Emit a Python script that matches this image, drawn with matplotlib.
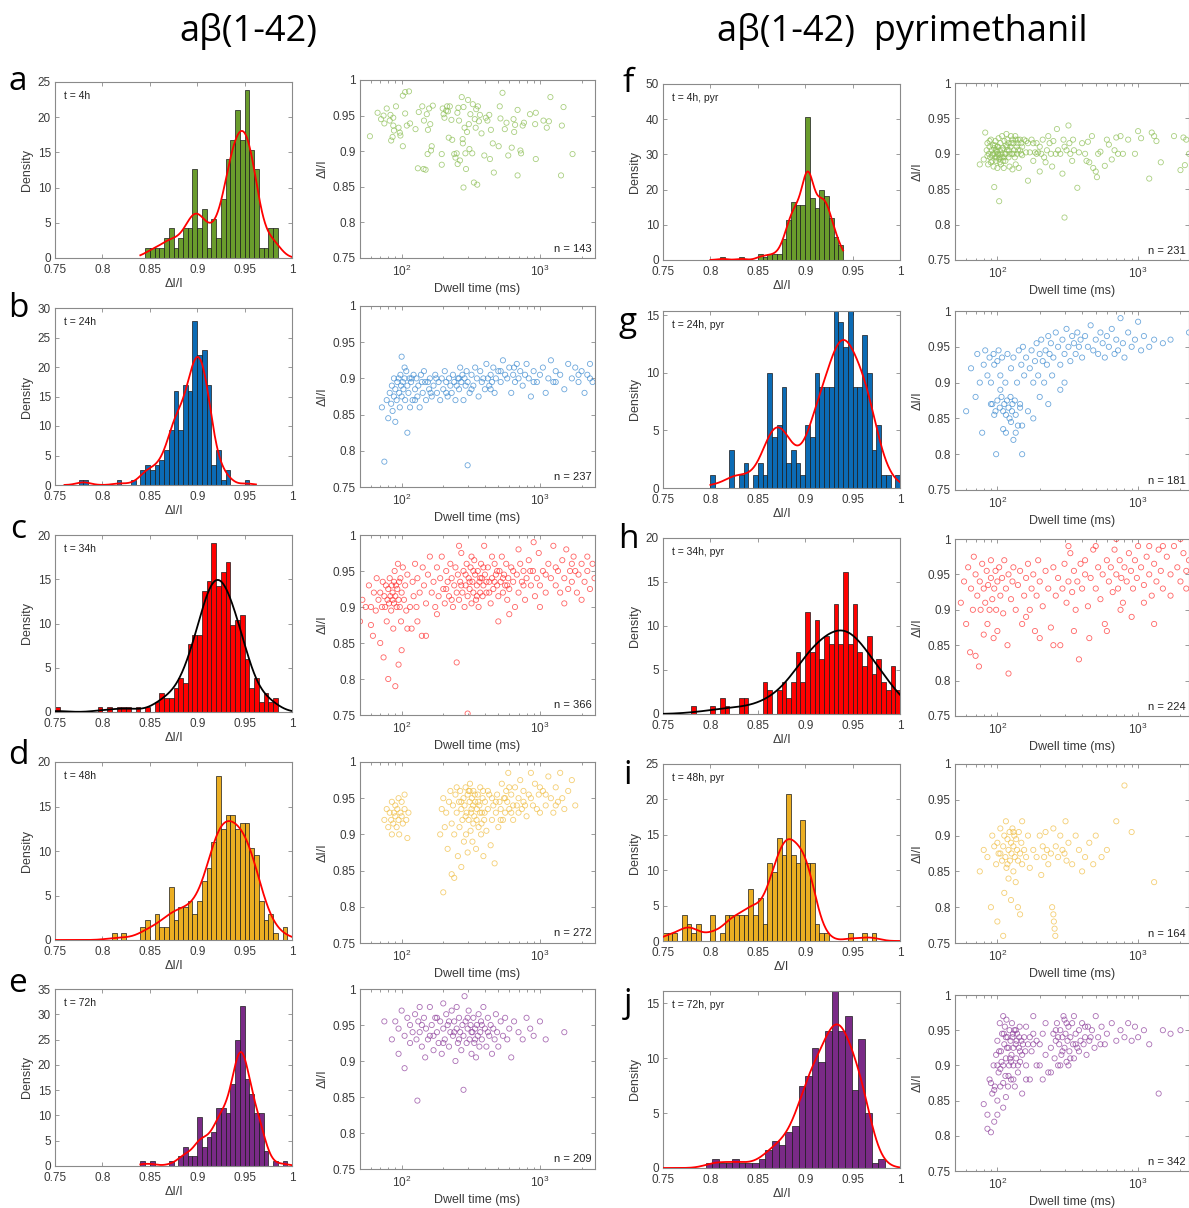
import numpy as np
import matplotlib
matplotlib.use('Agg')
import matplotlib.pyplot as plt
from matplotlib.ticker import LogLocator, NullFormatter, FixedLocator

plt.rcParams['font.family'] = ['Liberation Sans', 'DejaVu Sans']
plt.rcParams['mathtext.fontset'] = 'custom'
plt.rcParams['mathtext.rm'] = 'Liberation Sans'

# ---------------- histogram data (density per bin) ----------------
hist_a_start, hist_a_width = 0.845, 0.005
hist_a_heights = [1.4, 1.4, 1.4, 1.4, 2.8, 4.2, 1.4, 2.8, 4.2, 4.2, 12.6, 4.2, 7.0, 1.4, 5.6, 2.8,
                  8.4, 14.0, 16.8, 21.0, 16.8, 23.8, 15.4, 12.6, 1.4, 1.4, 4.2, 4.2]

hist_b_start, hist_b_width = 0.775, 0.005
hist_b_heights = [0.84, 0.84, 0, 0, 0, 0, 0, 0, 0.84, 0, 0, 0.84, 0,
                  2.5, 3.4, 2.5, 3.4, 4.2, 5.9, 9.3, 16.0, 9.3, 16.9, 16.0, 27.8, 22.0, 22.8,
                  16.9, 3.4, 5.9, 0.84, 2.5, 0, 0, 0, 0.84]

hist_c_start, hist_c_width = 0.75, 0.005
hist_c_heights = [0.55, 0, 0, 0, 0, 0, 0, 0, 0, 0.55, 0, 0.55, 0, 0.55, 0.55, 0.55, 0, 0.55, 0, 0.55,
                  0, 1.1, 2.2, 1.6, 1.6, 2.7, 3.8, 3.3, 7.7, 8.7, 8.7, 13.7, 14.8, 19.1, 14.2, 15.8,
                  16.9, 9.8, 10.4, 11.0, 6.0, 2.7, 3.8, 1.1, 2.2, 1.1, 1.6]

hist_d_start, hist_d_width = 0.81, 0.005
hist_d_heights = [0.74, 0, 0.74, 0, 0, 0, 1.5, 2.2, 0, 2.9, 1.5, 1.5, 5.9, 2.2, 3.7, 3.7, 4.4, 2.9,
                  4.4, 6.6, 8.1, 11.0, 18.4, 12.5, 14.0, 14.0, 12.5, 13.2, 13.2, 10.3, 9.6, 4.4,
                  2.2, 2.9, 0.74, 0, 1.5]

hist_e_start, hist_e_width = 0.84, 0.005
hist_e_heights = [0.96, 0, 0.96, 0, 0, 0, 0.96, 0, 1.9, 3.8, 1.9, 1.9, 9.6, 3.8, 5.7, 6.7, 11.5,
                  11.5, 10.5, 16.3, 24.9, 31.6, 17.2, 14.3, 10.5, 10.5, 2.9, 0, 0.96, 0, 0.96]

hist_f_start, hist_f_width = 0.81, 0.005
hist_f_heights = [0.87, 0, 0, 0, 0.87, 0, 0, 0, 1.7, 0.87, 1.7, 1.7, 1.7, 6.1, 11.3, 16.5, 15.6,
                  15.6, 40.7, 17.5, 14.7, 19.9, 18.2, 12.0, 6.5, 4.3]

hist_g_start, hist_g_width = 0.80, 0.005
hist_g_heights = [1.1, 0, 0, 0, 3.3, 0, 1.1, 2.2, 0, 1.1, 2.2, 1.1, 10.0, 4.4, 5.5, 8.8, 2.2, 3.3,
                  2.2, 1.1, 5.5, 4.4, 10.0, 8.8, 8.8, 8.8, 16.6, 14.4, 12.2, 16.6, 8.8, 8.8, 13.3,
                  10.0, 3.3, 5.5, 1.1, 1.1, 0, 1.1]

hist_h_start, hist_h_width = 0.78, 0.005
hist_h_heights = [0.9, 0, 0, 0, 0.9, 0, 1.8, 0.9, 0, 0, 1.8, 1.8, 0, 0, 0, 3.6, 2.7, 0, 2.7, 3.6,
                  1.8, 3.6, 7.1, 3.6, 11.6, 7.1, 10.7, 6.3, 8.9, 8.0, 12.5, 8.0, 16.1, 8.0, 12.5,
                  7.1, 5.4, 8.9, 4.5, 6.3, 3.6, 2.7, 5.4, 2.7]

hist_i_start, hist_i_width = 0.75, 0.005
hist_i_heights = [1.2, 1.2, 1.2, 0, 3.7, 2.4, 1.2, 2.4, 0, 0, 3.7, 0, 1.2, 3.7, 3.7, 3.7, 3.7, 3.7,
                  7.3, 3.7, 6.1, 2.4, 11.0, 9.8, 14.6, 12.2, 20.7, 12.2, 11.0, 17.1, 11.0, 11.0,
                  2.4, 1.2, 1.2, 0, 0, 0, 0, 1.2, 0, 0, 1.2, 0, 1.2]

hist_j_start, hist_j_width = 0.795, 0.007
hist_j_heights = [0.42, 0.84, 0.42, 0.42, 0.84, 0.42, 0.42, 0.42, 0.84, 1.67, 2.5, 2.1, 3.3, 3.8,
                  7.5, 8.4, 10.9, 9.6, 12.5, 16.3, 12.5, 13.8, 7.1, 11.7, 5.0, 0.42, 0.84]

# ---------------- scatter data: (dwell time ms, dI/I) ----------------
scat_a = [(59,0.921),(67,0.954),(71,0.945),(74,0.950),(75,0.939),(78,0.960),(82,0.943),(83,0.951),
 (84,0.915),(86,0.920),(87,0.947),(87,0.936),(88,0.929),(91,0.963),(95,0.933),(97,0.926),(98,0.922),
 (102,0.907),(102,0.978),(106,0.953),(106,0.983),(109,0.936),(113,0.984),(115,0.939),(126,0.931),
 (131,0.876),(133,0.955),(141,0.963),(144,0.875),(145,0.943),(149,0.874),(152,0.952),(154,0.896),
 (155,0.930),(158,0.960),(161,0.938),(163,0.901),(165,0.907),(168,0.964),(195,0.896),(195,0.881),
 (198,0.960),(201,0.952),(204,0.947),(210,0.957),(213,0.963),(216,0.956),(219,0.919),(223,0.963),
 (229,0.944),(232,0.916),(240,0.896),(245,0.891),(250,0.897),(253,0.954),(254,0.882),(257,0.961),
 (260,0.943),(264,0.887),(272,0.976),(276,0.917),(277,0.911),(280,0.849),(280,0.962),(285,0.933),
 (289,0.897),(292,0.875),(297,0.927),(302,0.972),(306,0.938),(309,0.903),(314,0.952),(324,0.897),
 (327,0.966),(333,0.856),(338,0.945),(343,0.933),(346,0.959),(352,0.853),(356,0.963),(362,0.942),
 (368,0.951),(378,0.925),(396,0.894),(406,0.947),(417,0.943),(430,0.951),(435,0.889),(442,0.930),
 (456,0.911),(464,0.870),(503,0.907),(512,0.963),(518,0.946),(536,0.982),(557,0.931),(573,0.940),
 (590,0.894),(625,0.905),(644,0.945),(651,0.927),(661,0.937),(689,0.866),(689,0.958),(722,0.901),
 (730,0.897),(750,0.936),(766,0.940),(847,0.952),(923,0.938),(933,0.954),(933,0.889),(1060,0.943),
 (1120,0.933),(1160,0.942),(1190,0.976),(1420,0.866),(1440,0.936),(1480,0.962),(1720,0.896)]

scat_b = [(72,0.86),(75,0.785),(78,0.87),(80,0.845),(82,0.88),(84,0.865),(85,0.89),(86,0.855),
 (88,0.875),(88,0.9),(90,0.84),(90,0.885),(92,0.87),(93,0.895),(95,0.9),(96,0.88),(97,0.86),(98,0.905),
 (99,0.89),(100,0.93),(100,0.875),(102,0.895),(103,0.885),(105,0.9),(106,0.87),(108,0.91),(110,0.825),
 (110,0.89),(112,0.88),(114,0.9),(115,0.86),(117,0.895),(120,0.87),(122,0.905),(125,0.885),(128,0.9),
 (130,0.875),(132,0.89),(135,0.86),(140,0.895),(142,0.88),(145,0.91),(150,0.87),(155,0.895),
 (158,0.885),(160,0.9),(165,0.875),(170,0.89),(175,0.905),(180,0.88),(185,0.895),(190,0.87),(195,0.9),
 (200,0.885),(205,0.91),(210,0.895),(215,0.875),(220,0.9),(225,0.89),(230,0.88),(235,0.905),(240,0.895),
 (245,0.87),(250,0.89),(255,0.9),(260,0.885),(265,0.915),(270,0.895),(275,0.905),(280,0.87),(285,0.9),
 (290,0.89),(295,0.91),(300,0.78),(300,0.895),(310,0.88),(320,0.905),(330,0.89),(340,0.915),(350,0.9),
 (360,0.875),(370,0.91),(380,0.895),(390,0.9),(400,0.885),(410,0.92),(420,0.9),(430,0.89),(440,0.905),
 (450,0.895),(460,0.915),(470,0.88),(480,0.9),(500,0.91),(520,0.895),(540,0.925),(560,0.905),(580,0.9),
 (600,0.915),(620,0.88),(640,0.905),(660,0.895),(680,0.92),(700,0.9),(720,0.91),(750,0.89),(780,0.905),
 (800,0.92),(830,0.9),(860,0.875),(900,0.91),(950,0.895),(1000,0.905),(1050,0.915),(1100,0.88),
 (1150,0.9),(1200,0.925),(1250,0.895),(1300,0.91),(1400,0.905),(1500,0.885),(1600,0.92),(1700,0.9),
 (1800,0.915),(1900,0.895),(2000,0.91),(2100,0.88),(2200,0.905),(2300,0.92),(2400,0.895),
 (105,0.915),(118,0.9),(125,0.87),(138,0.905),(148,0.895),(162,0.88),(178,0.9),(210,0.88),(260,0.9),
 (320,0.885),(440,0.885),(520,0.91),(650,0.915),(900,0.895),(1300,0.895),(1900,0.905),(2300,0.9)]

scat_c = [(50,0.88),(52,0.91),(55,0.9),(58,0.93),(60,0.9),(62,0.86),(63,0.92),(65,0.895),(66,0.94),
 (68,0.91),(70,0.85),(70,0.92),(72,0.9),(73,0.935),(74,0.83),(75,0.915),(76,0.9),(77,0.93),(78,0.88),
 (79,0.91),(80,0.8),(80,0.925),(81,0.905),(82,0.94),(83,0.915),(84,0.895),(85,0.93),(86,0.91),(86,0.92),
 (87,0.87),(88,0.935),(88,0.905),(89,0.95),(90,0.79),(90,0.915),(91,0.93),(92,0.9),(93,0.925),(94,0.96),
 (95,0.82),(95,0.91),(96,0.935),(97,0.9),(98,0.94),(99,0.88),(100,0.84),(100,0.92),(102,0.955),
 (104,0.91),(106,0.93),(108,0.895),(110,0.945),(115,0.9),(118,0.87),(120,0.935),(122,0.915),(125,0.96),
 (128,0.9),(130,0.94),(135,0.92),(140,0.86),(142,0.955),(145,0.93),(150,0.905),(155,0.945),(160,0.97),
 (165,0.92),(170,0.935),(175,0.9),(180,0.955),(185,0.915),(190,0.94),(195,0.97),(200,0.925),(205,0.905),
 (210,0.95),(215,0.935),(220,0.915),(225,0.96),(230,0.94),(235,0.9),(240,0.93),(245,0.955),(250,0.823),
 (250,0.92),(255,0.945),(260,0.91),(265,0.935),(270,0.975),(275,0.92),(280,0.95),(285,0.9),(290,0.93),
 (295,0.96),(300,0.752),(300,0.915),(305,0.94),(310,0.925),(315,0.955),(320,0.905),(325,0.935),
 (330,0.92),(335,0.965),(340,0.945),(345,0.91),(350,0.93),(355,0.95),(360,0.9),(365,0.935),(370,0.92),
 (375,0.96),(380,0.94),(385,0.915),(390,0.93),(395,0.985),(400,0.945),(410,0.92),(420,0.955),
 (430,0.935),(440,0.905),(450,0.94),(460,0.925),(470,0.96),(480,0.945),(490,0.93),(500,0.915),
 (510,0.95),(520,0.935),(530,0.97),(540,0.92),(550,0.945),(560,0.93),(570,0.96),(580,0.91),(590,0.94),
 (600,0.925),(620,0.955),(640,0.935),(660,0.9),(680,0.945),(700,0.92),(720,0.96),(740,0.935),
 (760,0.95),(780,0.91),(800,0.94),(830,0.965),(860,0.93),(890,0.95),(920,0.915),(950,0.94),(980,0.975),
 (1000,0.93),(1050,0.95),(1100,0.92),(1150,0.96),(1200,0.94),(1250,0.985),(1300,0.93),(1350,0.95),
 (1400,0.92),(1450,0.965),(1500,0.94),(1550,0.98),(1600,0.925),(1650,0.95),(1700,0.935),(1750,0.97),
 (1800,0.95),(1850,0.92),(1900,0.945),(2000,0.96),(2100,0.935),(2200,0.95),(2300,0.925),(2400,0.96),
 (2480,0.94),(60,0.875),(110,0.87),(130,0.88),(150,0.86),(180,0.89),(500,0.88),(600,0.89),(1000,0.9),
 (1500,0.905),(2000,0.91),(320,0.97),(260,0.985),(450,0.97),(700,0.98),(900,0.99),
 (210,0.925),(230,0.91),(270,0.93),(290,0.945),(310,0.935),(330,0.95),(350,0.915),(370,0.94),
 (390,0.955),(410,0.935),(430,0.92),(470,0.935),(490,0.95),(540,0.94),(580,0.93),(640,0.95),(760,0.93),
 (850,0.95),(1100,0.945),(1300,0.955),(1700,0.96),(2200,0.97)]

scat_d = [(75,0.92),(78,0.935),(80,0.91),(82,0.93),(84,0.92),(85,0.945),(87,0.915),(88,0.93),
 (90,0.925),(90,0.94),(92,0.91),(93,0.935),(95,0.92),(96,0.9),(98,0.93),(100,0.925),(100,0.945),
 (102,0.915),(105,0.935),(108,0.92),(110,0.895),(112,0.93),(95,0.95),(85,0.9),(105,0.955),
 (190,0.9),(195,0.935),(200,0.82),(200,0.95),(205,0.91),(210,0.93),(215,0.88),(220,0.945),(225,0.96),
 (230,0.845),(230,0.915),(235,0.94),(240,0.84),(240,0.9),(245,0.955),(250,0.93),(255,0.87),(260,0.945),
 (262,0.91),(265,0.96),(270,0.855),(270,0.935),(275,0.92),(280,0.95),(282,0.89),(285,0.94),(290,0.965),
 (292,0.9),(295,0.93),(300,0.955),(300,0.875),(305,0.92),(310,0.945),(312,0.97),(315,0.905),(320,0.935),
 (322,0.95),(325,0.89),(330,0.96),(335,0.925),(340,0.945),(345,0.88),(350,0.935),(355,0.955),(360,0.91),
 (365,0.94),(370,0.965),(375,0.9),(380,0.93),(385,0.95),(390,0.87),(395,0.92),(400,0.945),(410,0.905),
 (420,0.935),(430,0.955),(440,0.885),(450,0.92),(460,0.94),(470,0.86),(480,0.93),(490,0.955),(500,0.91),
 (510,0.945),(520,0.935),(530,0.97),(540,0.92),(550,0.95),(560,0.93),(570,0.96),(580,0.945),(590,0.985),
 (600,0.935),(620,0.955),(640,0.92),(660,0.965),(680,0.94),(700,0.95),(720,0.975),(740,0.935),
 (760,0.96),(780,0.94),(800,0.925),(830,0.955),(860,0.985),(890,0.94),(920,0.97),(950,0.935),
 (980,0.955),(1000,0.93),(1050,0.96),(1100,0.94),(1150,0.98),(1200,0.95),(1250,0.93),(1300,0.965),
 (1350,0.945),(1400,0.985),(1450,0.95),(1500,0.935),(1600,0.96),(1700,0.975),(1800,0.94),
 (305,0.96),(318,0.93),(328,0.94),(338,0.955),(348,0.92),(358,0.945),(368,0.93),(378,0.915),
 (388,0.96),(398,0.93),(250,0.965),(270,0.945),(290,0.925),(310,0.96),(330,0.915),
 (560,0.95),(600,0.965),(640,0.94),(700,0.93),(760,0.945),(860,0.95),(1000,0.965),(1100,0.955),
 (1300,0.94),(450,0.95),(420,0.96),(480,0.945),(520,0.92),(620,0.93)]

scat_e = [(85,0.93),(90,0.955),(95,0.945),(100,0.97),(105,0.935),(110,0.96),(115,0.95),(120,0.94),
 (125,0.965),(128,0.93),(130,0.845),(132,0.955),(135,0.94),(140,0.92),(145,0.96),(148,0.905),(150,0.945),
 (155,0.93),(160,0.975),(165,0.95),(170,0.935),(175,0.96),(180,0.94),(185,0.925),(190,0.955),(195,0.91),
 (200,0.945),(205,0.93),(210,0.965),(215,0.95),(220,0.92),(225,0.94),(230,0.97),(235,0.935),(240,0.955),
 (245,0.9),(250,0.945),(255,0.925),(260,0.96),(265,0.94),(270,0.915),(275,0.95),(280,0.86),(280,0.935),
 (285,0.99),(290,0.955),(295,0.925),(300,0.945),(305,0.97),(310,0.93),(315,0.95),(320,0.91),(325,0.94),
 (330,0.96),(335,0.925),(340,0.945),(345,0.905),(350,0.95),(355,0.935),(360,0.965),(365,0.92),
 (370,0.94),(375,0.955),(380,0.93),(390,0.975),(400,0.945),(410,0.92),(420,0.96),(430,0.935),
 (440,0.95),(450,0.91),(460,0.945),(470,0.93),(480,0.965),(490,0.94),(500,0.92),(520,0.955),
 (540,0.935),(560,0.96),(580,0.93),(600,0.945),(620,0.905),(650,0.955),(700,0.94),(750,0.93),
 (800,0.96),(850,0.945),(900,0.935),(1000,0.955),(1100,0.93),(1500,0.94),
 (140,0.95),(160,0.935),(180,0.96),(200,0.925),(220,0.955),(240,0.94),(260,0.93),(300,0.96),
 (320,0.94),(340,0.93),(380,0.95),(420,0.94),(115,0.925),(95,0.91),(75,0.955),(105,0.89),(250,0.975),
 (170,0.915),(135,0.975),(200,0.98)]

scat_f = [(75,0.885),(80,0.892),(82,0.93),(84,0.905),(85,0.915),(86,0.885),(87,0.9),(88,0.91),
 (89,0.895),(90,0.92),(90,0.888),(91,0.905),(92,0.898),(93,0.912),(94,0.882),(95,0.853),(95,0.908),
 (96,0.9),(97,0.918),(98,0.89),(98,0.905),(99,0.895),(100,0.91),(100,0.88),(101,0.9),(102,0.922),
 (103,0.833),(103,0.893),(104,0.905),(105,0.915),(106,0.885),(107,0.9),(108,0.925),(109,0.895),
 (110,0.908),(111,0.88),(112,0.918),(113,0.9),(114,0.89),(115,0.912),(116,0.928),(118,0.905),
 (120,0.895),(120,0.915),(122,0.882),(124,0.91),(125,0.925),(127,0.9),(128,0.878),(130,0.915),
 (132,0.905),(134,0.925),(135,0.885),(137,0.91),(138,0.9),(140,0.92),(142,0.88),(145,0.905),
 (148,0.915),(150,0.898),(155,0.92),(160,0.902),(165,0.862),(165,0.915),(170,0.902),(175,0.92),
 (180,0.89),(185,0.902),(190,0.915),(195,0.902),(200,0.875),(200,0.91),(205,0.9),(210,0.92),
 (215,0.895),(220,0.888),(225,0.905),(230,0.925),(235,0.915),(240,0.9),(245,0.882),(250,0.918),
 (260,0.9),(265,0.935),(270,0.905),(280,0.9),(290,0.872),(295,0.92),(300,0.81),(300,0.91),(310,0.905),
 (320,0.94),(325,0.915),(330,0.9),(340,0.89),(345,0.92),(350,0.905),(370,0.852),(380,0.902),
 (400,0.915),(420,0.9),(430,0.89),(440,0.917),(450,0.888),(470,0.925),(480,0.88),(500,0.875),
 (510,0.867),(520,0.9),(540,0.903),(580,0.883),(600,0.92),(620,0.913),(650,0.892),(680,0.905),
 (700,0.923),(720,0.9),(750,0.925),(780,0.9),(850,0.92),(950,0.9),(1000,0.932),(1050,0.922),
 (1200,0.865),(1250,0.93),(1300,0.925),(1350,0.918),(1450,0.888),(1800,0.925),(2000,0.877),
 (2100,0.923),(2150,0.884),(2200,0.92),(2300,0.9),
 (85,0.897),(88,0.918),(92,0.89),(96,0.912),(99,0.903),(102,0.898),(105,0.895),(110,0.89),(115,0.9),
 (118,0.92),(122,0.9),(126,0.915),(130,0.9),(135,0.92),(140,0.905),(145,0.92),(150,0.91),(160,0.918),
 (180,0.915),(190,0.9),(93,0.9),(97,0.895),(101,0.91),(104,0.888),(108,0.905),(112,0.895),(117,0.91),
 (121,0.905),(128,0.92),(133,0.895),(139,0.915),(147,0.9)]

scat_g = [(60,0.86),(65,0.92),(70,0.88),(72,0.94),(75,0.9),(78,0.83),(80,0.925),(82,0.945),(85,0.91),
 (88,0.935),(90,0.9),(92,0.87),(94,0.94),(95,0.925),(97,0.86),(98,0.8),(100,0.93),(100,0.875),
 (102,0.945),(104,0.865),(105,0.91),(107,0.88),(108,0.935),(110,0.86),(112,0.87),(114,0.9),(115,0.855),
 (117,0.875),(118,0.94),(120,0.865),(122,0.85),(124,0.88),(125,0.92),(127,0.86),(128,0.87),(130,0.82),
 (130,0.935),(133,0.875),(135,0.855),(138,0.9),(140,0.84),(142,0.945),(145,0.87),(148,0.925),
 (150,0.84),(152,0.95),(155,0.91),(160,0.935),(165,0.86),(170,0.92),(175,0.945),(180,0.85),(185,0.93),
 (190,0.955),(195,0.91),(200,0.94),(205,0.96),(210,0.93),(215,0.9),(220,0.945),(225,0.925),(230,0.965),
 (235,0.94),(240,0.955),(245,0.91),(250,0.935),(260,0.97),(270,0.95),(280,0.925),(290,0.96),(300,0.94),
 (310,0.975),(320,0.95),(330,0.93),(340,0.965),(350,0.955),(360,0.94),(370,0.97),(380,0.95),
 (390,0.96),(400,0.935),(420,0.965),(440,0.95),(460,0.98),(480,0.945),(500,0.96),(520,0.94),
 (540,0.97),(560,0.955),(580,0.935),(600,0.965),(620,0.95),(650,0.975),(680,0.94),(700,0.96),
 (720,0.945),(750,0.99),(780,0.955),(800,0.935),(850,0.97),(900,0.95),(950,0.96),(1000,0.985),
 (1050,0.945),(1100,0.965),(1200,0.95),(1300,0.96),(1500,0.955),(1700,0.96),(2300,0.97),
 (110,0.835),(125,0.845),(135,0.83),(145,0.865),(300,0.9),(280,0.89),(230,0.87),(200,0.88),
 (180,0.9),(90,0.87),(95,0.855),(105,0.89),(115,0.83),(150,0.8)]

scat_h = [(55,0.91),(58,0.94),(60,0.88),(62,0.96),(64,0.84),(65,0.93),(67,0.9),(68,0.975),(70,0.835),
 (70,0.95),(72,0.92),(74,0.82),(75,0.94),(76,0.9),(78,0.965),(80,0.865),(80,0.93),(82,0.91),(84,0.955),
 (85,0.88),(86,0.935),(88,0.9),(90,0.97),(90,0.945),(92,0.915),(94,0.86),(95,0.93),(97,0.955),(98,0.9),
 (100,0.94),(100,0.87),(103,0.96),(105,0.92),(108,0.945),(110,0.895),(112,0.97),(115,0.93),(118,0.85),
 (120,0.81),(120,0.95),(125,0.915),(128,0.94),(130,0.96),(135,0.9),(140,0.935),(145,0.955),(150,0.88),
 (155,0.92),(160,0.945),(165,0.965),(170,0.9),(175,0.93),(180,0.95),(185,0.87),(190,0.92),(195,0.97),
 (200,0.94),(210,0.905),(220,0.955),(230,0.93),(240,0.875),(250,0.96),(260,0.92),(270,0.945),
 (280,0.85),(290,0.93),(300,0.965),(310,0.91),(320,0.94),(330,0.98),(340,0.925),(350,0.955),(360,0.9),
 (370,0.94),(380,0.83),(390,0.965),(400,0.93),(420,0.95),(440,0.905),(460,0.945),(480,0.985),
 (500,0.93),(520,0.96),(540,0.915),(560,0.95),(580,0.88),(600,0.97),(620,0.94),(640,0.96),(660,0.925),
 (680,0.985),(700,0.95),(720,0.93),(740,0.97),(760,0.945),(780,0.91),(800,0.96),(830,0.94),(860,0.98),
 (890,0.955),(920,0.93),(950,0.97),(980,0.945),(1000,0.99),(1050,0.96),(1100,0.935),(1150,0.975),
 (1200,0.95),(1250,0.92),(1300,0.965),(1350,0.94),(1400,0.985),(1450,0.955),(1500,0.93),(1600,0.975),
 (1700,0.95),(1800,0.99),(1900,0.96),(2000,0.94),(2100,0.98),(2200,0.955),(2300,0.97),
 (600,0.87),(900,0.89),(1300,0.88),(1700,0.92),(2200,0.93),(450,0.86),(350,0.87),(750,0.9),(1100,0.91),
 (500,0.99),(700,1.0),(1200,0.99),(250,0.85),(200,0.86),(160,0.89),(320,0.99),(420,0.97),(1500,0.99),
 (2000,1.0)]

scat_i = [(75,0.85),(80,0.88),(85,0.87),(90,0.8),(92,0.9),(95,0.885),(98,0.86),(100,0.78),(100,0.89),
 (102,0.875),(105,0.91),(108,0.865),(110,0.76),(110,0.885),(112,0.9),(114,0.87),(115,0.92),(116,0.855),
 (118,0.895),(120,0.88),(120,0.84),(122,0.905),(123,0.865),(125,0.89),(126,0.875),(128,0.91),(130,0.85),
 (130,0.885),(132,0.9),(133,0.87),(135,0.835),(136,0.895),(138,0.88),(140,0.865),(140,0.8),(142,0.905),
 (145,0.79),(145,0.875),(148,0.89),(150,0.86),(150,0.92),(155,0.88),(160,0.87),(165,0.9),(170,0.855),
 (180,0.88),(190,0.87),(200,0.9),(205,0.845),(210,0.885),(215,0.87),(220,0.905),(225,0.88),(230,0.86),
 (240,0.875),(245,0.8),(250,0.79),(250,0.91),(252,0.78),(255,0.77),(258,0.76),(260,0.885),(270,0.87),
 (280,0.9),(290,0.88),(300,0.875),(305,0.92),(310,0.865),(320,0.89),(340,0.86),(360,0.9),(380,0.88),
 (400,0.85),(420,0.87),(450,0.89),(480,0.86),(500,0.9),(550,0.87),(600,0.88),(700,0.92),(800,0.97),
 (900,0.905),(1300,0.835),(130,0.905),(118,0.86),(105,0.875),(112,0.82),(125,0.81)]

scat_j = [(80,0.845),(85,0.83),(88,0.88),(90,0.805),(92,0.86),(94,0.9),(95,0.82),(96,0.87),(98,0.915),
 (100,0.85),(100,0.935),(102,0.89),(104,0.96),(105,0.87),(106,0.92),(108,0.945),(110,0.9),(110,0.84),
 (112,0.93),(113,0.955),(114,0.885),(115,0.91),(116,0.965),(118,0.94),(119,0.87),(120,0.925),(121,0.9),
 (122,0.95),(124,0.935),(125,0.88),(126,0.915),(127,0.96),(128,0.94),(130,0.9),(130,0.925),(132,0.95),
 (133,0.87),(135,0.93),(136,0.91),(138,0.945),(140,0.89),(142,0.925),(144,0.955),(145,0.905),
 (148,0.935),(150,0.86),(150,0.915),(155,0.94),(160,0.9),(165,0.93),(170,0.88),(175,0.92),(180,0.945),
 (190,0.9),(200,0.93),(210,0.88),(220,0.915),(230,0.89),(240,0.925),(250,0.945),(255,0.91),(260,0.935),
 (265,0.96),(270,0.9),(275,0.93),(280,0.95),(285,0.915),(290,0.94),(295,0.97),(300,0.925),(305,0.945),
 (310,0.905),(315,0.935),(320,0.955),(325,0.92),(330,0.94),(340,0.96),(345,0.93),(350,0.91),
 (360,0.945),(370,0.925),(380,0.95),(390,0.935),(400,0.96),(410,0.93),(420,0.94),(430,0.915),
 (440,0.955),(450,0.935),(470,0.95),(490,0.925),(500,0.97),(520,0.94),(550,0.955),(580,0.93),
 (600,0.945),(650,0.96),(700,0.935),(750,0.95),(800,0.94),(850,0.96),(900,0.935),(950,0.955),
 (1000,0.94),(1100,0.95),(1200,0.93),(1400,0.86),(1500,0.95),(1700,0.945),(2000,0.95),
 (85,0.81),(95,0.865),(100,0.83),(105,0.895),(110,0.875),(115,0.855),(120,0.885),(90,0.875),(130,0.88),
 (140,0.9),(160,0.88),(200,0.9),(240,0.89),(280,0.9),(320,0.9),(220,0.96),(180,0.97),(110,0.97),
 (125,0.905),(100,0.9),(115,0.94),(135,0.95),(145,0.92),(160,0.955),(180,0.93),(300,0.965),(350,0.97),
 (380,0.92),(270,0.94),(330,0.91),(103,0.92),(107,0.905),(111,0.945),(117,0.925),(123,0.91),
 (129,0.945),(137,0.935),(143,0.94),(152,0.93),(158,0.92),(170,0.94),(190,0.935),(210,0.945),
 (260,0.95),(290,0.92),(310,0.96),(360,0.93),(420,0.955),(460,0.94),(540,0.93)]

n_counts = {'a': 143, 'b': 237, 'c': 366, 'd': 272, 'e': 209, 'f': 231, 'g': 181, 'h': 224, 'i': 164, 'j': 342}
time_labels = {'a': 't = 4h', 'b': 't = 24h', 'c': 't = 34h', 'd': 't = 48h', 'e': 't = 72h',
               'f': 't = 4h, pyr', 'g': 't = 24h, pyr', 'h': 't = 34h, pyr', 'i': 't = 48h, pyr',
               'j': 't = 72h, pyr'}

# ---------------- styling ----------------
W, H = 1189, 1208
fig = plt.figure(figsize=(W / 100, H / 100), dpi=100)

def ax_px(x0, x1, y0, y1):
    return fig.add_axes([x0 / W, 1 - y1 / H, (x1 - x0) / W, (y1 - y0) / H])

bar_colors = {'green': '#6A9C2C', 'blue': '#0B6BB5', 'red': '#FF0000', 'gold': '#EBAE22', 'purple': '#7A2A87'}
dot_colors = {'green': '#8DBF55', 'blue': '#3C8AD0', 'red': '#FF3030', 'gold': '#F0BE45', 'purple': '#8E3F9C'}

spine_col = '#8A8A8A'
tick_col = '#3A3A3A'

def style(ax):
    for s in ax.spines.values():
        s.set_color(spine_col)
        s.set_linewidth(0.8)
    ax.tick_params(which='both', direction='in', top=True, right=True, colors=spine_col,
                   labelcolor=tick_col, labelsize=8.5, width=0.6)
    ax.tick_params(axis='x', which='both', pad=4)
    ax.tick_params(axis='y', which='both', pad=3)
    ax.tick_params(which='major', length=3)
    ax.tick_params(which='minor', length=1.8)

def kde(start, width, heights, bw, xs):
    h = np.asarray(heights, float)
    centers = start + width * (np.arange(len(h)) + 0.5)
    mass = h * width
    out = np.zeros_like(xs)
    for c, m in zip(centers, mass):
        out += m * np.exp(-0.5 * ((xs - c) / bw) ** 2) / (np.sqrt(2 * np.pi) * bw)
    return out

panels = [
    ('a', hist_a_start, hist_a_width, hist_a_heights, 'green', 25, [0, 5, 10, 15, 20, 25], 'r', 0.0085, (0.84, 1.0), scat_a, 0, 0),
    ('b', hist_b_start, hist_b_width, hist_b_heights, 'blue', 30, [0, 5, 10, 15, 20, 25, 30], 'r', 0.007, (0.76, 0.962), scat_b, 0, 1),
    ('c', hist_c_start, hist_c_width, hist_c_heights, 'red', 20, [0, 5, 10, 15, 20], 'k', 0.0105, (0.75, 1.0), scat_c, 0, 2),
    ('d', hist_d_start, hist_d_width, hist_d_heights, 'gold', 20, [0, 5, 10, 15, 20], 'r', 0.011, (0.75, 1.0), scat_d, 0, 3),
    ('e', hist_e_start, hist_e_width, hist_e_heights, 'purple', 35, [0, 5, 10, 15, 20, 25, 30, 35], 'r', 0.0068, (0.84, 1.0), scat_e, 0, 4),
    ('f', hist_f_start, hist_f_width, hist_f_heights, 'green', 50, [0, 10, 20, 30, 40, 50], 'r', 0.0055, (0.80, 0.94), scat_f, 1, 0),
    ('g', hist_g_start, hist_g_width, hist_g_heights, 'blue', 15.35, [0, 5, 10, 15], 'r', 0.0105, (0.80, 1.0), scat_g, 1, 1),
    ('h', hist_h_start, hist_h_width, hist_h_heights, 'red', 20, [0, 5, 10, 15, 20], 'k', 0.018, (0.75, 1.0), scat_h, 1, 2),
    ('i', hist_i_start, hist_i_width, hist_i_heights, 'gold', 25, [0, 5, 10, 15, 20, 25], 'r', 0.0085, (0.75, 1.0), scat_i, 1, 3),
    ('j', hist_j_start, hist_j_width, hist_j_heights, 'purple', 16.1, [0, 5, 10, 15], 'r', 0.0105, (0.75, 1.0), scat_j, 1, 4),
]

hist_x = [(55, 292), (663, 900)]
scat_x = [(360, 595), (955, 1189)]
hist_rows = [[(82, 258), (308, 485), (535, 712), (762, 940), (989, 1166)],
             [(84, 260), (311, 488), (538, 714), (764, 941), (991, 1168)]]
scat_rows = [[(80, 258), (306, 487), (535, 715), (762, 943), (989, 1169)],
             [(83, 260), (311, 490), (539, 716), (764, 943), (995, 1171)]]
letter_pos = {'a': (18, 82), 'b': (18, 308), 'c': (18, 529), 'd': (18, 756), 'e': (18, 983),
              'f': (628, 84), 'g': (628, 323), 'h': (628, 539), 'i': (628, 775), 'j': (628, 1004)}

xt = [0.75, 0.8, 0.85, 0.9, 0.95, 1.0]
xtl = ['0.75', '0.8', '0.85', '0.9', '0.95', '1']

for (key, hs, hw, hh, cname, ymax, yt, ccol, bw, crange, scat, col, row) in panels:
    # histogram
    x0, x1 = hist_x[col]
    y0, y1 = hist_rows[col][row]
    ax = ax_px(x0, x1, y0, y1)
    hh_arr = np.asarray(hh, float)
    edges = hs + hw * np.arange(len(hh_arr))
    m = hh_arr > 0
    ax.bar(edges[m], hh_arr[m], width=hw, align='edge', color=bar_colors[cname],
           edgecolor='#1a1a1a', linewidth=0.5, zorder=2)
    xs = np.linspace(crange[0], crange[1], 400)
    ax.plot(xs, kde(hs, hw, hh, bw, xs), color='#FF0000' if ccol == 'r' else 'black', lw=1.3, zorder=3)
    ax.set_xlim(0.75, 1.0)
    ax.set_ylim(0, ymax)
    ax.set_xticks(xt)
    ax.set_xticklabels(xtl)
    ax.set_yticks(yt)
    ax.set_yticklabels([str(v) for v in yt])
    style(ax)
    ax.set_xlabel('Δ/I' if key == 'i' else 'ΔI/I', fontsize=9, color=tick_col, labelpad=2)
    ax.set_ylabel('Density', fontsize=9, color=tick_col, labelpad=3)
    ax.text(0.04, 0.95, time_labels[key], transform=ax.transAxes, fontsize=7.5,
            color='#222222', va='top', ha='left')
    lx, ly = letter_pos[key]
    fig.text(lx / W, 1 - ly / H, key, fontsize=24, family=['Open Sans', 'DejaVu Sans'],
             ha='center', va='center', color='black')

    # scatter
    x0, x1 = scat_x[col]
    y0, y1 = scat_rows[col][row]
    sx = ax_px(x0, x1, y0, y1)
    dw = [p[0] for p in scat]
    dv = [p[1] for p in scat]
    sx.scatter(dw, dv, s=14, facecolors='none', edgecolors=dot_colors[cname], linewidths=0.6,
               alpha=0.75, zorder=2)
    sx.set_xscale('log')
    sx.set_xlim(50, 2500 if col == 0 else 2300)
    sx.set_ylim(0.75, 1.0)
    sx.xaxis.set_major_locator(FixedLocator([100, 1000]))
    sx.xaxis.set_minor_locator(LogLocator(base=10, subs=np.arange(2, 10)))
    sx.xaxis.set_minor_formatter(NullFormatter())
    sx.set_xticks([100, 1000])
    sx.set_xticklabels([r'$10^2$', r'$10^3$'])
    sx.set_yticks(xt)
    sx.set_yticklabels(xtl)
    style(sx)
    sx.set_xlabel('Dwell time (ms)', fontsize=9, color=tick_col, labelpad=3)
    sx.set_ylabel('ΔI/I', fontsize=9, color=tick_col, labelpad=3)
    sx.text(0.985, 0.025, 'n = %d' % n_counts[key], transform=sx.transAxes, fontsize=8,
            color='#222222', ha='right', va='bottom')

fig.text(248 / W, 1 - 32 / H, 'aβ(1-42)', fontsize=26, family=['Open Sans', 'DejaVu Sans'],
         ha='center', va='center')
fig.text(902 / W, 1 - 32 / H, 'aβ(1-42)  pyrimethanil', fontsize=26, family=['Open Sans', 'DejaVu Sans'],
         ha='center', va='center')

fig.savefig('out.png', dpi=100, facecolor='white')
